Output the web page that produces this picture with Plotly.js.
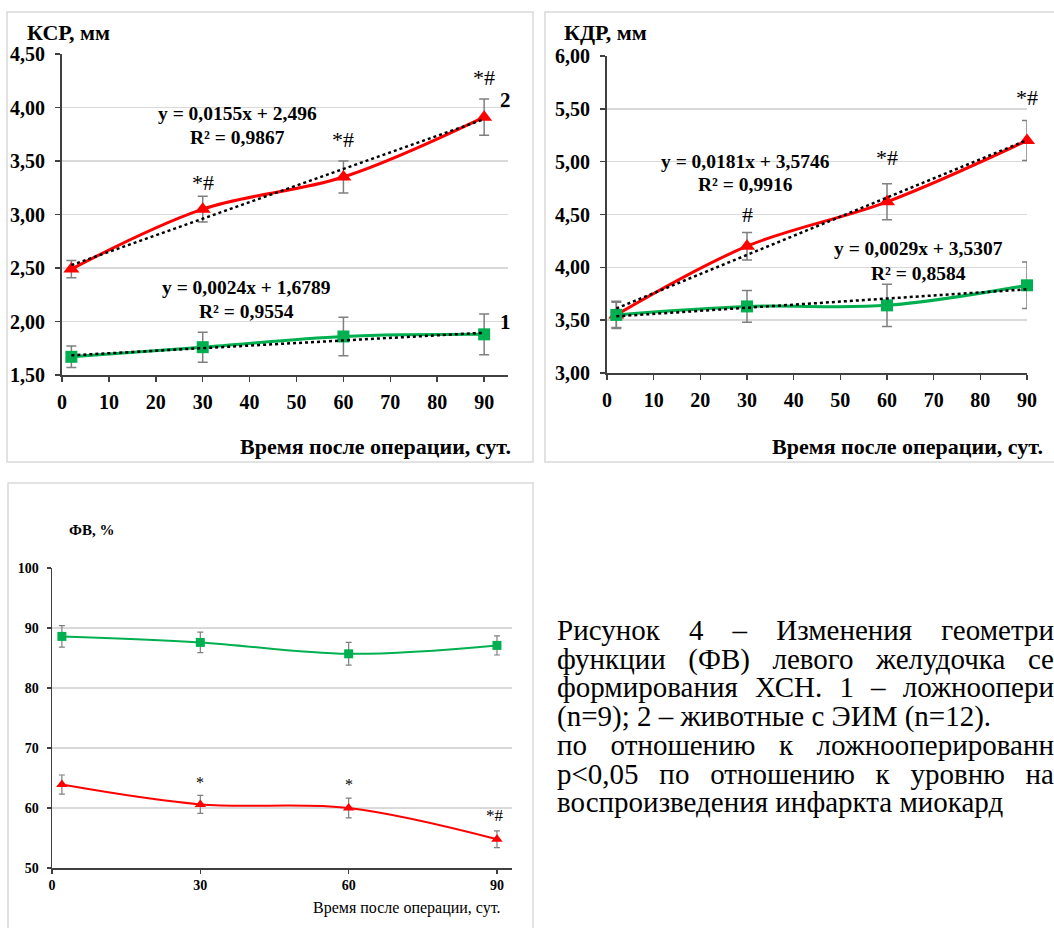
<!DOCTYPE html>
<html>
<head>
<meta charset="utf-8">
<script src="https://cdn.plot.ly/plotly-3.0.1.min.js"></script>
<style>
  html, body { margin: 0; padding: 0; background: #fff; }
  #wrap { position: relative; width: 1054px; height: 928px; overflow: hidden; }
  #plot { position: absolute; left: 0; top: 0; width: 1054px; height: 928px; }
  .ln { position: absolute; left: 557px; height: 28.7px; line-height: 28.7px; white-space: nowrap;
        font-family: 'Liberation Serif', serif; font-size: 29px; color: #000; }
  .j { width: 497px; display: flex; justify-content: space-between; }
</style>
</head>
<body>
<div id="wrap">
  <div id="plot"></div>
  <div id="caption"></div>
</div>
<script>
// ---------------- DATA ----------------
const days = [2, 30, 60, 90];

// КСР, мм
const ksrGroup2 = [2.49, 3.05, 3.35, 3.91];
const ksrGroup2Err = [0.08, 0.12, 0.15, 0.17];
const ksrGroup1 = [1.67, 1.76, 1.86, 1.88];
const ksrGroup1Err = [0.10, 0.14, 0.18, 0.19];
const ksrTrendSlope = [0.0155, 0.0024];       // [group2, group1]
const ksrTrendIntercept = [2.496, 1.6789];

// КДР, мм
const kdrGroup2 = [3.55, 4.20, 4.62, 5.20];
const kdrGroup2Err = [0.12, 0.13, 0.17, 0.19];
const kdrGroup1 = [3.55, 3.63, 3.64, 3.83];
const kdrGroup1Err = [0.13, 0.15, 0.20, 0.22];
const kdrTrendSlope = [0.0181, 0.0029];
const kdrTrendIntercept = [3.5746, 3.5307];

// ФВ, %
const fvGroup1 = [88.6, 87.6, 85.7, 87.1];
const fvGroup1Err = [1.8, 1.7, 1.9, 1.6];
const fvGroup2 = [63.9, 60.6, 60.0, 54.8];
const fvGroup2Err = [1.6, 1.5, 1.65, 1.4];

// Text labels
const eqKsr = ["y = 0,0155x + 2,496", "R² = 0,9867", "y = 0,0024x + 1,6789", "R² = 0,9554"];
const eqKdr = ["y = 0,0181x + 3,5746", "R² = 0,9916", "y = 0,0029x + 3,5307", "R² = 0,8584"];
const ksrMarks = ["*#", "*#", "*#"];
const kdrMarks = ["#", "*#", "*#"];
const fvMarks = ["*", "*", "*#"];
const xTitle = "Время после операции, сут.";
const captionLines = [
  "Рисунок 4 – Изменения геометри",
  "функции (ФВ) левого желудочка се",
  "формирования ХСН. 1 – ложноопери",
  "(n=9); 2 – животные с ЭИМ (n=12).",
  "по отношению к ложнооперированн",
  "р<0,05 по отношению к уровню на",
  "воспроизведения инфаркта миокард"
];
const captionJustified = [true, true, true, false, true, true, false];

// ---------------- HELPERS ----------------
const W = 1054, H = 928;
const px = v => v / W;
const py = v => 1 - v / H;
const RED = "#ff0000", GREEN = "#00b050", ERR = "#7f7f7f", AX = "#404040";
const FONT = "Liberation Serif";

function trendTrace(slope, intercept, xa, ya) {
  const xs = [days[0], days[days.length - 1]];
  return { x: xs, y: xs.map(v => slope * v + intercept), xaxis: xa, yaxis: ya,
    mode: "lines", line: { color: "#000", width: 2.5, dash: "dot" }, hoverinfo: "skip" };
}
function series(y, err, color, sym, size, lw, errw, capw, xa, ya) {
  return { x: days, y: y, xaxis: xa, yaxis: ya, mode: "lines+markers", cliponaxis: false,
    line: { color: color, width: lw, shape: "spline", smoothing: 1 },
    marker: { color: color, symbol: sym, size: size },
    error_y: { type: "data", array: err, visible: true, color: ERR, thickness: errw, width: capw } };
}

const traces = [
  series(ksrGroup2, ksrGroup2Err, RED, "triangle-up", 14, 3, 1.5, 5, "x", "y"),
  series(ksrGroup1, ksrGroup1Err, GREEN, "square", 12, 3, 1.5, 5, "x", "y"),
  trendTrace(ksrTrendSlope[0], ksrTrendIntercept[0], "x", "y"),
  trendTrace(ksrTrendSlope[1], ksrTrendIntercept[1], "x", "y"),
  series(kdrGroup2, kdrGroup2Err, RED, "triangle-up", 14, 3, 1.5, 5, "x2", "y2"),
  series(kdrGroup1, kdrGroup1Err, GREEN, "square", 12, 3, 1.5, 5, "x2", "y2"),
  trendTrace(kdrTrendSlope[0], kdrTrendIntercept[0], "x2", "y2"),
  trendTrace(kdrTrendSlope[1], kdrTrendIntercept[1], "x2", "y2"),
  series(fvGroup1, fvGroup1Err, GREEN, "square", 9, 2, 1.2, 3, "x3", "y3"),
  series(fvGroup2, fvGroup2Err, RED, "triangle-up", 10, 2, 1.2, 3, "x3", "y3")
];

const bigTick = { family: FONT, size: 20, color: "#000", weight: "bold" };
const smallTick = { family: FONT, size: 14, color: "#000", weight: "bold" };

function xax(domain, range, dtick, font, lw, tl, so, anchor) {
  return { domain: domain, range: range, dtick: dtick, tick0: 0, anchor: anchor,
    showline: true, linecolor: AX, linewidth: lw, ticks: "outside", ticklen: tl, tickwidth: lw * 0.75,
    tickcolor: AX, showgrid: false, zeroline: false, tickfont: font, ticklabelstandoff: so, fixedrange: true };
}
function yax(domain, range, dtick, fmt, font, lw, tl, so, anchor, gw) {
  return { domain: domain, range: range, dtick: dtick, tick0: range[0], tickformat: fmt, anchor: anchor,
    showline: true, linecolor: AX, linewidth: lw, ticks: "outside", ticklen: tl, tickwidth: lw * 0.75,
    tickcolor: AX, showgrid: true, gridcolor: "#d9d9d9", gridwidth: gw, zeroline: false,
    tickfont: font, ticklabelstandoff: so, fixedrange: true };
}

const ann = [];
function txt(text, x, y, size, bold, xanchor) {
  ann.push({ text: text, x: px(x), y: py(y), xref: "paper", yref: "paper", showarrow: false,
    xanchor: xanchor || "center", yanchor: "middle",
    font: { family: FONT, size: size, color: "#000", weight: bold ? "bold" : "normal" } });
}
function dtxt(text, x, y, xr, yr, size, bold) {
  ann.push({ text: text, x: x, y: y, xref: xr, yref: yr, showarrow: false, xanchor: "center", yanchor: "middle",
    font: { family: FONT, size: size, color: "#000", weight: bold ? "bold" : "normal" } });
}

// Chart 1 texts
txt("КСР, мм", 25, 33, 22, true, "left");
txt(xTitle, 513, 446, 22, true, "right");
txt(eqKsr[0], 237, 113, 19.5, true);
txt(eqKsr[1], 237, 137, 19.5, true);
txt(eqKsr[2], 246, 288, 19.5, true);
txt(eqKsr[3], 246, 311, 19.5, true);
dtxt(ksrMarks[0], 30, 3.30, "x", "y", 22, false);
dtxt(ksrMarks[1], 60, 3.70, "x", "y", 22, false);
dtxt(ksrMarks[2], 90, 4.28, "x", "y", 22, false);
dtxt("2", 94.5, 4.07, "x", "y", 21, true);
dtxt("1", 94.5, 2.00, "x", "y", 21, true);

// Chart 2 texts
txt("КДР, мм", 562, 33, 22, true, "left");
txt(xTitle, 1045, 446, 22, true, "right");
txt(eqKdr[0], 745, 161, 19.5, true);
txt(eqKdr[1], 745, 184, 19.5, true);
txt(eqKdr[2], 918, 249, 19.5, true);
txt(eqKdr[3], 918, 273, 19.5, true);
dtxt(kdrMarks[0], 30, 4.50, "x2", "y2", 22, false);
dtxt(kdrMarks[1], 60, 5.04, "x2", "y2", 22, false);
dtxt(kdrMarks[2], 90, 5.61, "x2", "y2", 22, false);

// Chart 3 texts
txt("ФВ, %", 67, 530, 15, true, "left");
txt(xTitle, 503, 908, 16, false, "right");
dtxt(fvMarks[0], 30, 64.2, "x3", "y3", 16, false);
dtxt(fvMarks[1], 60, 64.0, "x3", "y3", 16, false);
dtxt(fvMarks[2], 89.5, 58.7, "x3", "y3", 17, false);
dtxt("1", 93.2, 88.8, "x3", "y3", 15, true);
dtxt("2", 94.6, 55.0, "x3", "y3", 15, true);

const panel = (x0, y0, x1, y1) => ({ type: "rect", xref: "paper", yref: "paper",
  x0: px(x0), x1: px(x1), y0: py(y1), y1: py(y0), line: { color: "#d9d9d9", width: 1.5 } });

const layout = {
  width: W, height: H, autosize: false, showlegend: false,
  margin: { l: 0, r: 0, t: 0, b: 0 }, paper_bgcolor: "#fff", plot_bgcolor: "#fff",
  separators: ", ",
  font: { family: FONT },
  xaxis:  xax([px(62), px(507.6)], [0, 95], 10, bigTick, 2, 5, 3, "y"),
  yaxis:  yax([py(375), py(54)], [1.5, 4.5], 0.5, ".2f", bigTick, 2, 5, 6, "x", 1.5),
  xaxis2: xax([px(607), px(1027)], [0, 90], 10, bigTick, 2, 5, 3, "y2"),
  yaxis2: yax([py(373), py(56)], [3, 6], 0.5, ".2f", bigTick, 2, 5, 6, "x2", 1.5),
  xaxis3: xax([px(52), px(511.8)], [0, 93], 30, smallTick, 1.5, 4, 0, "y3"),
  yaxis3: yax([py(868), py(568)], [50, 100], 10, "d", smallTick, 1.5, 4, 5, "x3", 1.2),
  annotations: ann,
  shapes: [panel(7, 12, 533, 462), panel(545, 12, 1060, 462), panel(8, 483, 533, 935)]
};

Plotly.newPlot("plot", traces, layout, { staticPlot: true, displayModeBar: false });

// Caption (justified lines cut at the right edge, like the source page)
const cap = document.getElementById("caption");
captionLines.forEach((line, i) => {
  const d = document.createElement("div");
  d.className = captionJustified[i] ? "ln j" : "ln";
  d.style.top = (616 + i * 28.7) + "px";
  if (captionJustified[i]) {
    line.split(" ").forEach(w => { const s = document.createElement("span"); s.textContent = w; d.appendChild(s); });
  } else {
    d.textContent = line;
  }
  cap.appendChild(d);
});
</script>
</body>
</html>
